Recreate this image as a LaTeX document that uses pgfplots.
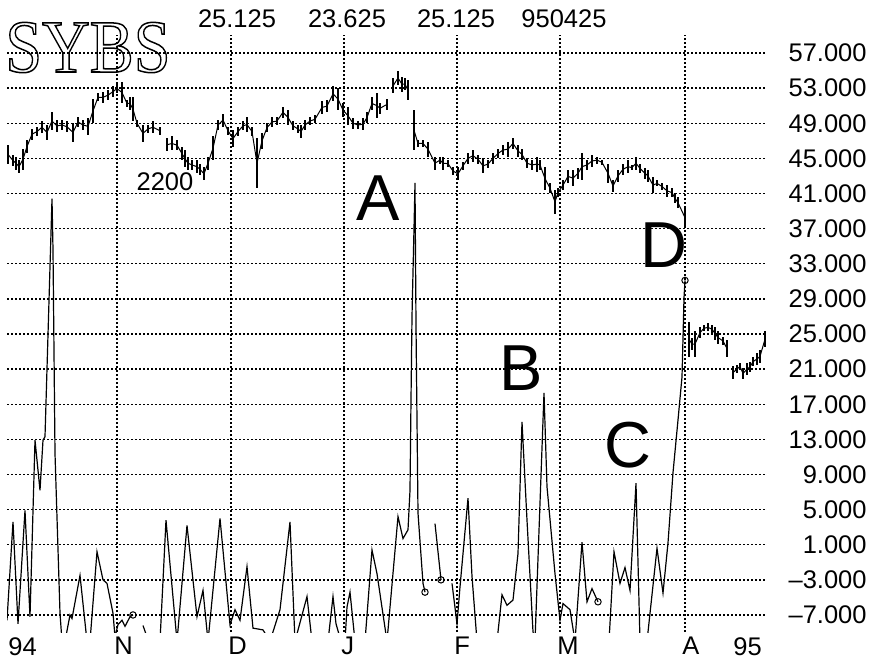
\documentclass[border=0pt]{standalone}
\usepackage{pgfplots}
\pgfplotsset{compat=1.18}
\usepackage{pgfplotstable}
\usepackage{fontspec}
\setmainfont{Liberation Sans}
\newfontfamily\seriffont{Liberation Serif}

% price bars: x position, low, high
\pgfplotstableread{
x lo hi
8 44.4 46.5
13 44.1 45.4
16 43.7 45.2
19 43.3 44.8
23 43.7 46.1
27 45.6 47.1
32 47.1 48.4
37 47.5 48.6
42 47.9 49.2
47 47.1 48.8
52 48.2 50.3
57 48.0 49.4
62 48.2 49.4
67 48.0 49.2
73 46.9 49.0
78 48.6 49.7
83 48.2 49.4
88 47.7 49.6
93 49.0 51.8
98 51.5 52.4
103 51.3 52.6
108 51.6 52.8
113 52.0 53.2
117 52.4 53.5
122 51.3 53.7
127 50.9 51.6
130 50.5 52.0
133 49.2 52.0
137 48.6 49.4
143 46.9 48.8
148 47.9 48.8
153 47.9 49.2
160 47.7 48.6
163 nan nan
167 45.8 47.3
172 45.9 47.5
177 45.9 47.1
182 44.8 46.3
185 44.0 45.9
188 43.7 45.2
192 43.7 44.8
197 43.3 44.8
200 43.1 44.4
204 42.5 44.0
208 43.7 45.2
213 44.8 47.5
218 48.2 49.4
223 48.6 50.1
228 47.7 48.6
233 46.3 48.2
238 47.5 48.6
243 48.2 49.2
247 48.0 49.7
252 47.5 48.6
257 41.6 47.3
262 46.1 47.9
267 48.0 49.0
272 48.6 49.7
277 48.8 49.7
283 49.6 50.9
288 48.8 50.5
293 48.2 49.2
298 47.9 48.8
301 47.3 48.8
305 48.2 49.4
310 48.8 49.7
315 49.0 49.9
322 50.1 51.5
327 50.3 51.6
333 51.5 53.2
338 50.5 53.0
343 49.7 51.3
348 48.8 50.9
353 48.4 49.6
358 48.4 49.2
363 48.2 49.6
367 49.0 50.3
372 50.5 52.0
377 49.6 52.4
380 50.1 51.3
387 50.5 51.8
390 nan nan
393 52.4 54.1
398 53.4 54.9
402 52.6 54.3
405 52.8 54.1
408 51.6 53.9
411 nan nan
414 45.9 50.5
418 46.3 47.1
423 46.3 47.1
428 45.2 46.9
435 43.7 45.2
440 44.4 45.2
443 43.7 45.2
448 44.0 44.8
453 43.1 44.0
458 42.5 44.0
463 43.7 44.6
468 44.4 45.6
473 44.6 46.0
478 44.4 45.4
483 43.3 45.0
488 43.9 44.8
493 44.4 45.6
498 45.0 46.1
503 45.4 46.5
508 45.2 46.9
513 46.1 47.3
518 45.2 46.5
522 44.8 46.1
527 43.9 45.0
532 43.7 44.8
537 43.5 45.2
540 43.7 44.8
545 41.4 44.0
550 41.0 42.2
555 38.7 41.4
558 40.6 41.6
563 41.4 42.5
568 42.2 43.7
573 41.8 43.7
578 42.7 43.9
582 42.5 45.6
587 43.7 44.8
592 44.0 45.4
597 44.4 45.2
602 44.3 44.8
608 42.2 44.4
613 41.2 42.5
618 42.3 43.7
623 43.1 44.4
628 43.3 44.8
632 43.7 44.2
636 43.7 45.2
640 43.3 44.4
645 42.7 43.9
648 42.3 43.7
653 41.0 42.9
657 41.8 42.5
662 41.4 42.2
667 40.6 42.0
672 40.6 41.6
675 39.9 41.0
678 39.3 40.6
685 37.2 39.3
687 nan nan
689 22.4 26.4
692 23.2 24.5
695 22.4 25.3
700 24.5 25.8
704 25.3 26.0
708 25.3 26.2
712 25.1 26.0
715 24.3 25.8
718 23.9 25.3
723 23.7 24.7
727 22.4 24.3
730 nan nan
733 19.9 21.3
737 20.5 21.5
740 20.9 21.7
743 19.9 21.1
747 20.3 21.7
750 20.7 21.8
753 21.3 22.4
757 21.5 22.8
760 21.7 23.2
765 23.5 25.3
}\price

% oscillator
\pgfplotstableread{
x v
7 -7.6
13 3.6
18 -8.0
25 4.9
30 -7.2
35 12.9
40 7.2
43 12.9
45 13.3
52 40.4
53 34.6
55 11.4
60 -6.8
62 -10
65 -10
70 -7.0
72 -7.4
80 -2.5
87 -10
90 -10
97 0.2
103 -3.0
107 -3.4
113 -6.8
115 -9.5
118 -8.1
122 -7.6
125 -8.3
130 -7.2
133 -7.0
138 nan
143 -8.2
147 -9.5
150 nan
160 -10
166 3.8
177 -10
187 3.2
197 -7.2
203 -4.2
208 -10
220 4.0
230 -8.1
235 -6.4
240 -7.6
247 -1.5
253 -8.5
263 -8.7
270 -10
280 -6.4
290 3.6
295 -10
307 -4.9
312 -10
328 -10
333 -4.9
336 -8.0
341 -10
345 -10
347 -6.1
350 -4.4
355 -10
365 -10
372 0.4
377 -2.3
387 -10
398 4.2
403 1.7
408 2.7
410 7.2
411 17.5
412 27.0
414 37.0
415 42.2
416 26.0
417 15.2
418 4.6
423 -3.4
425 -4.4
430 nan
435 3.4
441 -3.0
446 nan
452 -3.4
457 -8.0
460 -3.8
468 6.3
472 -2.6
477 -10
487 nan
497 -10
502 -4.7
507 -5.9
513 -5.3
518 0.0
522 15.0
527 3.8
533 -8.9
535 -10
544 18.3
547 7.6
555 -2.3
560 -7.6
563 -5.7
570 -6.4
575 -10
582 1.3
587 -5.5
592 -4.0
598 -5.5
603 nan
609 -10
614 0.2
620 -3.4
625 -1.6
630 -4.2
636 8.0
640 -10
647 -10
657 0.6
663 -4.5
668 1.2
673 9.2
678 15.2
682 20.1
683 24.5
684 29.1
685 31.1
}\osc

\begin{document}
\begin{tikzpicture}
\path[use as bounding box] (-3.5pt,-14.5pt) rectangle (433.5pt,316pt);
\begin{axis}[
  at={(0pt,0pt)}, anchor=south west,
  scale only axis, width=380pt, height=298.5pt,
  xmin=7, xmax=767, ymin=-8.94, ymax=59.05,
  axis line style={draw=none},
  major tick length=0pt,
  xtick={117,231,344,457,560,685},
  xticklabels={N,D,J,F,M,A},
  extra x ticks={11,736},
  extra x tick labels={94,95},
  extra x tick style={grid=none},
  ytick={-7,-3,...,57},
  yticklabels={\textendash7.000,\textendash3.000,1.000,5.000,9.000,13.000,17.000,21.000,25.000,29.000,33.000,37.000,41.000,45.000,49.000,53.000,57.000},
  yticklabel pos=right,
  grid=major,
  major grid style={black, line width=0.7pt, dash pattern=on 1pt off 1pt},
  tick label style={font=\fontsize{12.75}{14}\selectfont, inner sep=0pt},
  xticklabel style={anchor=north west, xshift=-1.5pt, yshift=-2.5pt},
  yticklabel style={anchor=east, xshift=50pt},
  unbounded coords=jump,
  clip mode=individual,
]
\addplot[black, line width=0.5pt, mark=none,
  error bars/.cd, y dir=both, y explicit, error mark=none,
  error bar style={line width=0.65pt, black, solid}]
  table[x=x, y expr={(\thisrow{lo}+\thisrow{hi})/2}, y error expr={(\thisrow{hi}-\thisrow{lo})/2}] {\price};
\addplot[black, line width=0.6pt, mark=none] table[x=x, y=v] {\osc};
\addplot[only marks, mark=o, mark size=1.6pt, mark options={black, line width=0.5pt, fill=white}]
  coordinates {(133,-7.0) (425,-4.4) (441,-3.0) (598,-5.5) (685,31.1)};
\end{axis}
\node[anchor=base west, inner sep=0pt] at (-1pt,280pt)
  {\scalebox{0.88}[1]{\seriffont\fontsize{37.5}{38}\selectfont\special{pdf:literal direct 1 Tr 0.75 w}SYBS\special{pdf:literal direct 0 Tr}}};
\begin{scope}[every node/.style={inner sep=0pt, anchor=base, font=\fontsize{12.75}{14}\selectfont}]
\node at (79pt,221pt) {2200};
\node at (115pt,302.5pt) {25.125};
\node at (170pt,302.5pt) {23.625};
\node at (224.5pt,302.5pt) {25.125};
\node at (278.5pt,302.5pt) {950425};
\end{scope}
\begin{scope}[every node/.style={inner sep=0pt, anchor=base, font=\fontsize{32.5}{34}\selectfont}]
\node at (185.5pt,206pt) {A};
\node at (257pt,121pt) {B};
\node at (310.5pt,82.5pt) {C};
\node at (328.5pt,182.5pt) {D};
\end{scope}
\end{tikzpicture}
\end{document}
